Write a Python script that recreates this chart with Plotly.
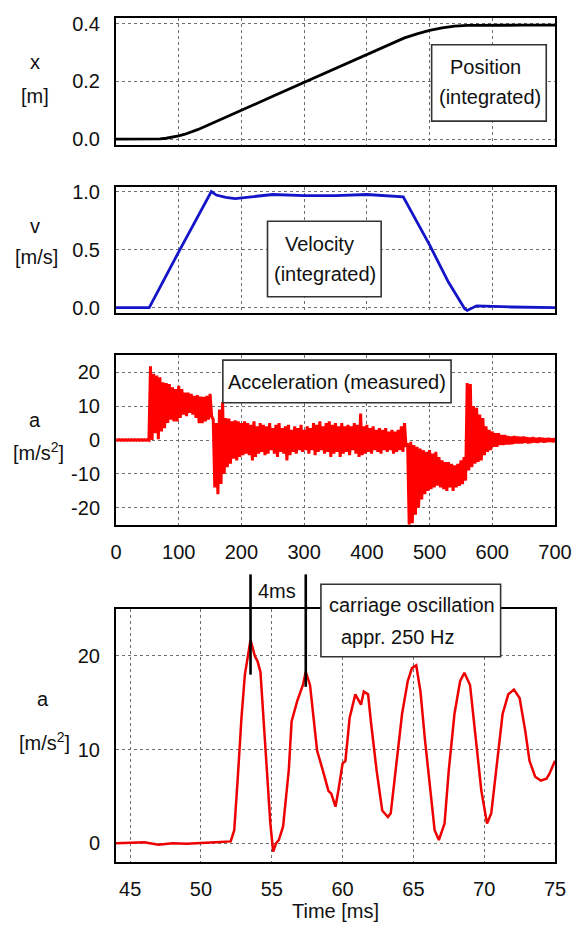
import plotly.graph_objects as go

# ---------------- data ----------------
# Position (integrated) [m] vs time [ms]
pos_t = [0, 50, 60, 70, 80, 90, 100, 110, 120, 130, 140, 150, 160, 180, 200, 250, 300,
         350, 400, 430, 460, 480, 500, 520, 540, 560, 580, 600, 650, 700]
pos_x = [0.0, 0.0, 0.0002, 0.0012, 0.0032, 0.0067, 0.0113, 0.0172, 0.0245, 0.0330,
         0.0425, 0.0525, 0.0620, 0.0810, 0.1000, 0.1490, 0.1970, 0.2460, 0.2940,
         0.3230, 0.3510, 0.3650, 0.3770, 0.3860, 0.3920, 0.3945, 0.3950, 0.3950,
         0.3950, 0.3950]

# Velocity (integrated) [m/s] vs time [ms]
vel_t = [0, 53, 100, 152, 160, 175, 190, 210, 250, 300, 350, 400, 430, 458, 500, 530,
         556, 560, 575, 600, 630, 700]
vel_v = [0.0, 0.0, 0.48, 1.0, 0.97, 0.95, 0.94, 0.95, 0.975, 0.965, 0.965, 0.975, 0.965,
         0.955, 0.54, 0.22, -0.01, -0.025, 0.015, 0.01, 0.005, 0.0]

# Acceleration (measured) [m/s^2]: successive oscillation peak / trough pairs, every 5 ms
acc_sample_ms = 2.5
acc_pairs = [
    (0.1, -0.1), (0.1, -0.1), (0.1, -0.1), (0.1, -0.1), (0.1, -0.1), (0.1, -0.1),
    (0.1, -0.1), (0.1, -0.1), (0.1, -0.1), (0.1, -0.1), (0.1, -0.1),          # 0-50
    (21.7, 0.0), (19.5, 2.0), (19.0, 0.2), (18.5, 2.5), (17.0, 3.5),            # 55-75
    (16.8, 5.0), (16.5, 6.0), (15.5, 5.5), (15.0, 5.5), (16.0, 6.5),            # 80-100
    (15.0, 7.5), (14.0, 7.0), (14.0, 8.0), (13.6, 7.5), (13.0, 6.5),            # 105-125
    (13.2, 5.0), (12.8, 5.0), (12.7, 5.5), (13.0, 6.0), (13.6, 7.0),            # 130-150
    (6.0, -14.0), (5.0, -16.0), (9.0, -13.0), (11.2, -10.0), (6.5, -8.0),       # 155-175
    (6.3, -7.0), (5.5, -5.5), (5.8, -6.0), (5.5, -5.0), (5.0, -4.5),            # 180-200
    (5.5, -4.0), (5.0, -4.5), (4.5, -6.0), (5.5, -5.0), (4.0, -4.0),            # 205-225
    (5.0, -3.5), (4.5, -4.5), (4.0, -4.0), (5.0, -3.0), (3.5, -4.0),            # 230-250
    (4.5, -5.0), (5.0, -3.5), (3.5, -4.0), (4.0, -6.0), (4.5, -4.5),            # 255-275
    (3.0, -3.5), (4.0, -4.0), (3.5, -3.0), (4.5, -3.5), (3.0, -3.0),            # 280-300
    (4.0, -4.0), (3.5, -3.0), (5.0, -4.5), (4.5, -3.5), (5.5, -3.0),            # 305-325
    (4.0, -4.0), (5.0, -3.5), (5.5, -5.0), (4.5, -4.0), (5.0, -3.5),            # 330-350
    (4.0, -5.0), (5.0, -4.0), (4.0, -3.5), (4.5, -4.5), (4.0, -3.0),            # 355-375
    (5.0, -4.0), (4.5, -5.0), (7.8, -4.5), (4.0, -4.0), (4.5, -3.5),            # 380-400
    (3.5, -4.0), (4.0, -3.0), (3.0, -3.5), (3.5, -4.0), (3.0, -3.0),            # 405-425
    (3.5, -3.5), (2.5, -3.0), (3.0, -4.0), (2.5, -3.5), (3.0, -3.0),            # 430-450
    (4.0, -3.5), (5.0, -2.0), (-1.0, -25.0), (-0.5, -24.5), (-1.5, -22.0),      # 455-475
    (-2.0, -20.0), (-2.5, -17.5), (-3.0, -16.0), (-3.5, -15.0), (-3.0, -14.5),  # 480-500
    (-4.0, -14.0), (-3.5, -13.5), (-5.0, -14.0), (-6.0, -14.5), (-6.5, -15.0),  # 505-525
    (-6.5, -14.0), (-7.0, -15.0), (-7.5, -14.0), (-7.0, -13.5), (-6.0, -13.0),  # 530-550
    (-5.0, -12.0), (16.8, -9.0), (16.5, -8.0), (10.0, -7.0), (9.5, -6.5),       # 555-575
    (7.5, -6.0), (6.5, -4.5), (4.0, -3.5), (3.0, -3.0), (2.5, -2.0),            # 580-600
    (2.0, -2.0), (2.0, -1.5), (1.5, -1.5), (1.5, -1.3), (1.2, -1.3),            # 605-625
    (1.0, -1.2), (1.2, -1.0), (1.0, -1.0), (0.9, -1.0), (1.0, -0.8),            # 630-650
    (0.8, -1.0), (0.7, -0.8), (0.8, -0.7), (0.6, -0.8), (0.7, -0.6),            # 655-675
    (0.6, -0.7), (0.5, -0.6), (0.6, -0.5), (0.4, -0.6), (0.5, -0.5),            # 680-700
]

# Zoomed acceleration [m/s^2] vs time [ms]
zoom_t = [44.0, 45.0, 46.0, 47.0, 48.0, 49.0, 50.0, 51.0, 52.1, 52.35, 52.6, 52.86, 53.1,
          53.4, 53.5, 53.8, 54.0, 54.2, 54.4, 54.6, 54.9, 55.1, 55.3, 55.5, 55.8, 56.2,
          56.4, 56.8, 57.2, 57.4, 57.7, 57.9, 58.2, 58.6, 59.0, 59.2, 59.5, 59.7, 60.0,
          60.2, 60.5, 60.9, 61.3, 61.5, 61.8, 62.0, 62.4, 62.8, 63.2, 63.4, 63.8, 64.2,
          64.6, 64.9, 65.2, 65.5, 65.8, 66.2, 66.5, 66.8, 67.2, 67.5, 67.9, 68.3, 68.6,
          69.0, 69.4, 69.8, 70.2, 70.5, 70.9, 71.3, 71.7, 72.1, 72.5, 72.9, 73.2, 73.6,
          74.0, 74.4, 74.6, 75.0]
zoom_a = [0.0, 0.05, 0.1, -0.15, 0.0, -0.05, 0.0, 0.1, 0.2, 1.4, 7.0, 13.4, 18.0,
          21.2, 21.7, 20.0, 19.4, 18.3, 13.8, 8.5, 2.1, -0.9, 0.0, 0.35, 1.8, 7.8,
          13.0, 15.2, 16.9, 18.3, 16.9, 14.1, 9.9, 7.8, 5.6, 5.3, 3.9, 5.6, 8.5,
          8.8, 13.4, 15.9, 14.8, 16.2, 15.9, 13.0, 7.8, 3.5, 2.8, 3.2, 8.5, 13.8,
          17.3, 18.7, 19.0, 16.2, 11.3, 5.3, 1.4, 0.35, 2.1, 7.8, 13.8, 17.3, 18.2,
          16.9, 11.3, 5.6, 2.1, 3.2, 8.5, 13.8, 15.9, 16.4, 15.5, 12.0, 8.8, 7.1,
          6.7, 6.9, 7.4, 8.8]

# Period markers in the zoomed plot (peak times, ms) and their lower ends (m/s^2)
marker_t = [53.5, 57.4]
marker_low = [18.0, 16.7]

# Axis ticks
x_ticks_full = [0, 100, 200, 300, 400, 500, 600, 700]
x_ticks_zoom = [45, 50, 55, 60, 65, 70, 75]
pos_ticks = [0.0, 0.2, 0.4]
pos_ticktext = ["0.0", "0.2", "0.4"]
vel_ticks = [0.0, 0.5, 1.0]
vel_ticktext = ["0.0", "0.5", "1.0"]
acc_ticks = [-20, -10, 0, 10, 20]
acc_ticktext = ["-20", "-10", "0", "10", "20"]
zoom_ticks = [0, 10, 20]

# build acceleration series from the peak/trough pairs
acc_a = [v for pair in acc_pairs for v in pair]
acc_t = [k * acc_sample_ms for k in range(len(acc_a))]

# ---------------- layout geometry ----------------
W, H = 584, 931
ML, MR, MT, MB = 116, 16, 18, 62
PW = W - ML - MR
PH = H - MT - MB


def fx(px):
    return (px - ML) / PW


def fy(py):
    return (H - MB - py) / PH


FONT = "Liberation Sans, Arial, Helvetica, sans-serif"
GRID = "#6e6e6e"

fig = go.Figure()
fig.add_trace(go.Scatter(x=pos_t, y=pos_x, mode="lines", line=dict(color="black", width=2.8),
                         xaxis="x", yaxis="y", showlegend=False, hoverinfo="skip"))
fig.add_trace(go.Scatter(x=vel_t, y=vel_v, mode="lines", line=dict(color="#1414c8", width=2.8),
                         xaxis="x2", yaxis="y2", showlegend=False, hoverinfo="skip"))
fig.add_trace(go.Scatter(x=acc_t, y=acc_a, mode="lines", line=dict(color="#ff0000", width=3.0),
                         xaxis="x3", yaxis="y3", showlegend=False, hoverinfo="skip"))
fig.add_trace(go.Scatter(x=zoom_t, y=zoom_a, mode="lines", line=dict(color="#ee0000", width=2.5),
                         xaxis="x4", yaxis="y4", showlegend=False, hoverinfo="skip"))

tickfont = dict(family=FONT, size=20, color="#111")

common_x = dict(showline=True, mirror=True, linecolor="black", linewidth=2, zeroline=False,
                showgrid=True, gridcolor=GRID, griddash="dot", gridwidth=1, ticks="",
                tickfont=tickfont, domain=[0, 1])
common_y = dict(showline=True, mirror=True, linecolor="black", linewidth=2, zeroline=False,
                showgrid=True, gridcolor=GRID, griddash="dot", gridwidth=1, ticks="",
                tickfont=tickfont, ticklabelstandoff=10)

layout = dict(
    width=W, height=H, margin=dict(l=ML, r=MR, t=MT, b=MB),
    paper_bgcolor="white", plot_bgcolor="white", showlegend=False,
    xaxis=dict(common_x, anchor="y", range=[0, 700], tickvals=x_ticks_full, showticklabels=False),
    yaxis=dict(common_y, anchor="x", domain=[fy(146), fy(18)], range=[-0.02, 0.42],
               tickvals=pos_ticks, ticktext=pos_ticktext),
    xaxis2=dict(common_x, anchor="y2", range=[0, 700], tickvals=x_ticks_full, showticklabels=False),
    yaxis2=dict(common_y, anchor="x2", domain=[fy(315), fy(188)], range=[-0.043, 1.043],
                tickvals=vel_ticks, ticktext=vel_ticktext),
    xaxis3=dict(common_x, anchor="y3", range=[0, 700], tickvals=x_ticks_full, ticklabelstandoff=8),
    yaxis3=dict(common_y, anchor="x3", domain=[fy(529), fy(358)], range=[-25, 25],
                tickvals=acc_ticks, ticktext=acc_ticktext),
    xaxis4=dict(common_x, anchor="y4", range=[44, 75], tickvals=x_ticks_zoom, ticklabelstandoff=8,
                title=dict(text="Time [ms]", font=dict(family=FONT, size=20, color="#111"),
                           standoff=5)),
    yaxis4=dict(common_y, anchor="x4", domain=[0, fy(614)], range=[-2, 25],
                tickvals=zoom_ticks),
)
fig.update_layout(**layout)

# ---- boxes (white, framed) ----
boxes = [(441, 45, 559, 122), (272, 223, 389, 299), (226, 363, 461, 406), (327, 589, 512, 662)]
shapes = []
for (x0, y0, x1, y1) in boxes:
    shapes.append(dict(type="rect", xref="paper", yref="paper", x0=fx(x0), x1=fx(x1),
                       y0=fy(y1), y1=fy(y0), line=dict(color="#333", width=1.6),
                       fillcolor="white", layer="above"))

# period marker lines in the zoomed panel
y4lo, y4hi = fig.layout.yaxis4.domain
r0, r1 = fig.layout.yaxis4.range
for t, low in zip(marker_t, marker_low):
    shapes.append(dict(type="line", xref="x4", yref="paper", x0=t, x1=t,
                       y0=y4lo + (low - r0) / (r1 - r0) * (y4hi - y4lo), y1=fy(579),
                       line=dict(color="black", width=2.6), layer="above"))
fig.update_layout(shapes=shapes)

# ---- text annotations ----
texts = [
    ("x", 33, 62), ("[m]", 33, 97),
    ("v", 33, 228), ("[m/s]", 34, 259),
    ("a", 33, 423), ("[m/s<sup>2</sup>]", 36, 455),
    ("a", 41, 705), ("[m/s<sup>2</sup>]", 42, 747),
    ("Position", 496, 67), ("(integrated)", 501, 98),
    ("Velocity", 326, 246), ("(integrated)", 331, 276),
    ("Acceleration (measured)", 344, 385),
    ("carriage oscillation", 421, 610), ("appr. 250 Hz", 406, 642),
    ("4ms", 282, 596),
]
annotations = []
for txt, px, py in texts:
    annotations.append(dict(text=txt, xref="paper", yref="paper", x=fx(px), y=fy(py),
                            xanchor="center", yanchor="middle", showarrow=False,
                            font=dict(family=FONT, size=20, color="#111")))
fig.update_layout(annotations=annotations)

fig.write_html("out.html", config={"displayModeBar": False},
               post_script="document.body.style.margin='0';")
